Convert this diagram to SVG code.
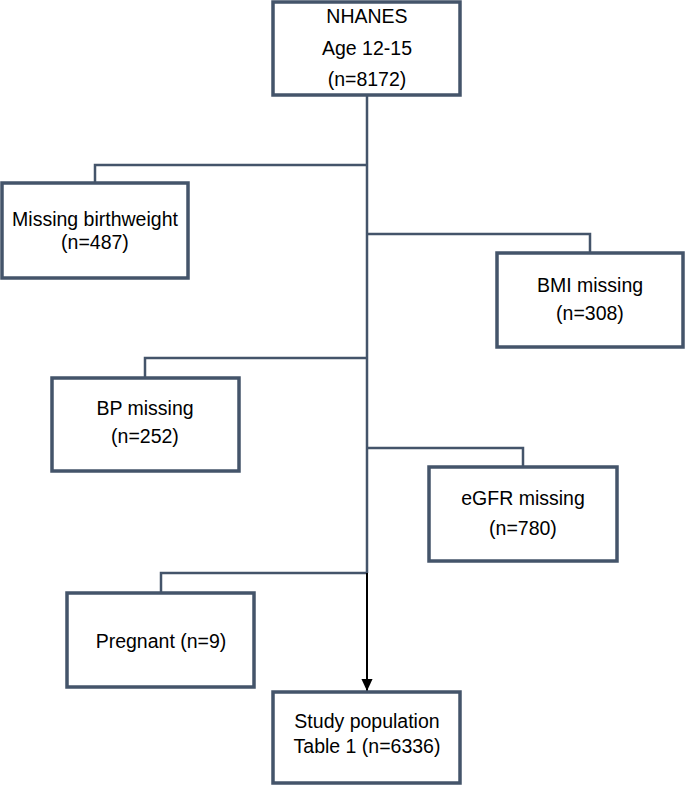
<svg xmlns="http://www.w3.org/2000/svg" width="685" height="787" viewBox="0 0 685 787">
<style>
.box{fill:#fff;stroke:#44546A;stroke-width:3.5}
.con{fill:none;stroke:#44546A;stroke-width:2.5}
.arr{fill:none;stroke:#000;stroke-width:2}
text{font-family:"Liberation Sans",Arial,sans-serif;font-size:19.5px;fill:#000;text-anchor:middle}
</style>
<defs>
<marker id="ah" markerWidth="12" markerHeight="12" refX="13" refY="6" orient="auto" markerUnits="userSpaceOnUse" viewBox="0 0 13 12">
<path d="M0,0 L13,6 L0,12 Z" fill="#000"/>
</marker>
</defs>
<g id="connectors">
<path class="con" d="M367,95 V573"/>
<path class="con" d="M367,165 H95 V183"/>
<path class="con" d="M367,234 H590 V253"/>
<path class="con" d="M367,358 H145 V378"/>
<path class="con" d="M367,448 H523 V467"/>
<path class="con" d="M367,573 H161 V593"/>
<path class="arr" d="M367,573 V691" marker-end="url(#ah)"/>
</g>
<g id="nhanes">
<rect class="box" x="273" y="2" width="187" height="93"/>
<text x="367" y="23">NHANES</text>
<text x="367" y="55">Age 12-15</text>
<text x="367" y="86">(n=8172)</text>
</g>
<g id="birthweight">
<rect class="box" x="2" y="183" width="186" height="95"/>
<text x="95" y="226">Missing birthweight</text>
<text x="95" y="249">(n=487)</text>
</g>
<g id="bmi">
<rect class="box" x="497" y="253" width="186" height="94"/>
<text x="590" y="292">BMI missing</text>
<text x="590" y="320">(n=308)</text>
</g>
<g id="bp">
<rect class="box" x="52" y="378" width="187" height="93"/>
<text x="145" y="415">BP missing</text>
<text x="145" y="443">(n=252)</text>
</g>
<g id="egfr">
<rect class="box" x="429" y="467" width="188" height="94"/>
<text x="523" y="505">eGFR missing</text>
<text x="523" y="535">(n=780)</text>
</g>
<g id="pregnant">
<rect class="box" x="67" y="593" width="187" height="94"/>
<text x="161" y="648">Pregnant (n=9)</text>
</g>
<g id="study">
<rect class="box" x="273" y="692" width="187" height="91"/>
<text x="367" y="728">Study population</text>
<text x="367" y="753">Table 1 (n=6336)</text>
</g>
</svg>
